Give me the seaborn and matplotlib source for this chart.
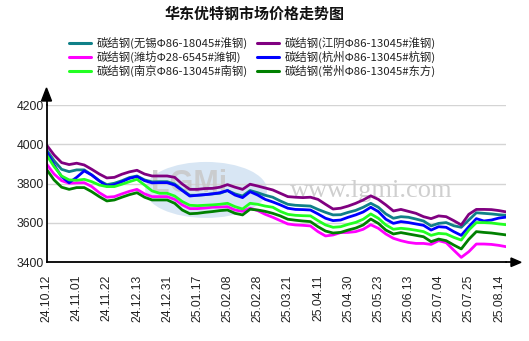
import matplotlib
matplotlib.use("Agg")
import matplotlib.pyplot as plt
from matplotlib.patches import Ellipse, Polygon
from matplotlib.lines import Line2D
import seaborn as sns
import pandas as pd

# ---------------- data ----------------
tick_labels = ["24.10.12", "24.11.01", "24.11.22", "24.12.13", "24.12.31", "25.01.17",
               "25.02.08", "25.02.28", "25.03.21", "25.04.11", "25.04.30", "25.05.23",
               "25.06.13", "25.07.04", "25.07.25", "25.08.14"]

series_names = ["碳结钢(无锡Φ86-18045#淮钢)", "碳结钢(江阴Φ86-13045#淮钢)",
                "碳结钢(潍坊Φ28-6545#潍钢)", "碳结钢(杭州Φ86-13045#杭钢)",
                "碳结钢(南京Φ86-13045#南钢)", "碳结钢(常州Φ86-13045#东方)"]
series_colors = ["#108088", "#800080", "#ff00ff", "#0000ff", "#22ff22", "#008000"]

wuxi = [3972, 3917, 3873, 3861, 3870, 3870, 3844, 3815, 3795, 3802, 3815, 3831, 3839, 3819, 3809, 3810,
        3810, 3798, 3768, 3741, 3741, 3744, 3748, 3751, 3765, 3748, 3737, 3765, 3754, 3741, 3731,
        3712, 3695, 3690, 3688, 3686, 3669, 3654, 3641, 3642, 3654, 3664, 3680, 3700, 3680, 3646,
        3624, 3632, 3629, 3620, 3610, 3585, 3598, 3602, 3586, 3578, 3615, 3652, 3649, 3646, 3642, 3639]
jiangyin = [3997, 3946, 3907, 3897, 3904, 3895, 3873, 3849, 3829, 3832, 3848, 3860, 3868, 3849, 3839, 3839,
            3839, 3832, 3798, 3771, 3771, 3775, 3776, 3782, 3795, 3782, 3771, 3797, 3788, 3778, 3768,
            3751, 3734, 3731, 3729, 3731, 3720, 3695, 3671, 3675, 3686, 3700, 3717, 3738, 3720, 3692,
            3661, 3669, 3659, 3649, 3632, 3622, 3636, 3632, 3612, 3590, 3644, 3669, 3669, 3668, 3663, 3656]
weifang = [3900, 3849, 3815, 3802, 3804, 3805, 3785, 3754, 3731, 3734, 3748, 3761, 3771, 3748, 3734, 3734,
           3734, 3720, 3692, 3673, 3673, 3676, 3680, 3681, 3683, 3666, 3659, 3675, 3663, 3644, 3629,
           3612, 3595, 3590, 3588, 3585, 3556, 3534, 3539, 3551, 3552, 3556, 3568, 3591, 3573, 3544,
           3522, 3510, 3501, 3496, 3496, 3491, 3510, 3500, 3462, 3425, 3454, 3493, 3493, 3491, 3486, 3479]
hangzhou = [3963, 3895, 3836, 3805, 3832, 3865, 3844, 3814, 3788, 3795, 3810, 3827, 3836, 3815, 3804, 3805,
            3805, 3793, 3765, 3737, 3741, 3744, 3748, 3754, 3765, 3742, 3729, 3759, 3742, 3720, 3707,
            3692, 3675, 3669, 3668, 3666, 3646, 3624, 3612, 3615, 3629, 3641, 3656, 3680, 3658, 3619,
            3598, 3607, 3602, 3595, 3588, 3564, 3581, 3578, 3556, 3537, 3581, 3622, 3610, 3615, 3625, 3630]
nanjing = [3946, 3887, 3839, 3819, 3817, 3822, 3810, 3793, 3785, 3785, 3797, 3810, 3822, 3793, 3763, 3751,
           3751, 3737, 3709, 3690, 3688, 3690, 3692, 3695, 3700, 3683, 3671, 3700, 3695, 3686, 3680,
           3659, 3644, 3639, 3637, 3636, 3612, 3590, 3578, 3581, 3593, 3603, 3619, 3646, 3624, 3590,
           3568, 3573, 3569, 3563, 3556, 3537, 3547, 3544, 3527, 3513, 3564, 3602, 3602, 3600, 3595, 3591]
changzhou = [3873, 3819, 3782, 3771, 3780, 3780, 3759, 3734, 3712, 3717, 3731, 3744, 3754, 3731, 3717, 3717,
             3717, 3700, 3666, 3647, 3649, 3654, 3658, 3663, 3666, 3649, 3641, 3670, 3666, 3659, 3649,
             3636, 3619, 3614, 3610, 3607, 3581, 3559, 3549, 3552, 3564, 3574, 3590, 3620, 3598, 3564,
             3544, 3551, 3544, 3537, 3530, 3505, 3518, 3510, 3488, 3468, 3517, 3556, 3552, 3549, 3544, 3539]

values = [wuxi, jiangyin, weifang, hangzhou, nanjing, changzhou]
points_per_tick = 4
y_ticks = [3400, 3600, 3800, 4000, 4200]

# ---------------- frame ----------------
rows = []
for name, vals in zip(series_names, values):
    for i, v in enumerate(vals):
        rows.append({"idx": i, "price": v, "series": name})
df = pd.DataFrame(rows)

sns.set_theme(style="white")
plt.rcParams['font.family'] = ['Noto Sans CJK SC', 'DejaVu Sans']

W, H = 529, 341
fig = plt.figure(figsize=(W / 100, H / 100), dpi=100)
ax_l, ax_r, ax_t, ax_b = 46.5, 506.5, 105.0, 262.3
ax = fig.add_axes([ax_l / W, 1 - ax_b / H, (ax_r - ax_l) / W, (ax_b - ax_t) / H])

# watermark logo ellipse and text (behind lines)
ax.add_patch(Ellipse((0.347, 0.46), 0.265, 0.356, transform=ax.transAxes,
                     facecolor="#c8dcf0", edgecolor="none", alpha=0.7, zorder=0.5))
ax.text(0.31, 0.50, "LGMi", transform=ax.transAxes, ha="center", va="center",
        fontsize=22, fontweight="bold", color="#c8c8c8", family="Liberation Sans",
        alpha=0.85, zorder=0.6)
ax.text(0.705, 0.455, "www.lgmi.com", transform=ax.transAxes, ha="center", va="center",
        fontsize=19, color="#cfcfcf", family="Liberation Serif", zorder=0.6)

palette = dict(zip(series_names, series_colors))
sns.lineplot(data=df, x="idx", y="price", hue="series", hue_order=series_names,
             palette=palette, linewidth=2.0, ax=ax, legend=False, zorder=3)

n_pts = len(wuxi)
ax.set_xlim(0, n_pts - 1)
ax.set_ylim(3400, 4200)
ax.set_yticks(y_ticks)
ax.set_yticklabels([str(t) for t in y_ticks], family="Liberation Sans", fontsize=8.7, color="#222222")
ax.set_xticks([i * points_per_tick for i in range(len(tick_labels))])
ax.set_xticklabels(tick_labels, rotation=90, family="Liberation Sans", fontsize=8.7, color="#222222")
ax.tick_params(axis="y", length=0, pad=2)
ax.tick_params(axis="x", length=0, pad=9)
ax.set_xlabel("")
ax.set_ylabel("")
ax.grid(axis="y", color="#d4d4d4", linewidth=1.0, zorder=0)
ax.grid(axis="x", visible=False)
for s in ["top", "right"]:
    ax.spines[s].set_visible(False)
for s in ["left", "bottom"]:
    ax.spines[s].set_color("black")
    ax.spines[s].set_linewidth(1.3)
    ax.spines[s].set_zorder(4)

# axis arrows (pixel geometry -> axes fraction)
aw, ah = ax_r - ax_l, ax_b - ax_t
def fx(px): return (px - ax_l) / aw
def fy(py): return (ax_b - py) / ah
ax.plot([0, 0], [1, fy(100)], color="black", lw=1.3, transform=ax.transAxes, clip_on=False)
ax.add_patch(Polygon([(fx(41.5), fy(101)), (fx(51.5), fy(101)), (fx(46.5), fy(88))],
                     closed=True, transform=ax.transAxes, color="black", clip_on=False, zorder=5))
ax.plot([1, fx(512)], [0, 0], color="black", lw=1.3, transform=ax.transAxes, clip_on=False)
ax.add_patch(Polygon([(fx(511), fy(258)), (fx(511), fy(266.5)), (fx(521), fy(262.3))],
                     closed=True, transform=ax.transAxes, color="black", clip_on=False, zorder=5))

# title
fig.text(255 / W, 1 - 14 / H, "华东优特钢市场价格走势图", ha="center", va="center",
         fontsize=10.8, fontweight="bold", color="#111111")

# legend (two columns, row-wise order as in reference)
handles = [Line2D([0], [0], color=c, lw=2.2) for c in series_colors]
order = [0, 2, 4, 1, 3, 5]
leg = fig.legend([handles[i] for i in order], [series_names[i] for i in order],
                 ncol=2, loc="upper left", bbox_to_anchor=(69 / W, 1 - 37 / H),
                 frameon=False, fontsize=8.2, handlelength=1.95, handletextpad=0.45,
                 columnspacing=0.85, labelspacing=0.15, borderaxespad=0, borderpad=0)
for t in leg.get_texts():
    t.set_color("#222222")

fig.savefig("out.png", dpi=100)
